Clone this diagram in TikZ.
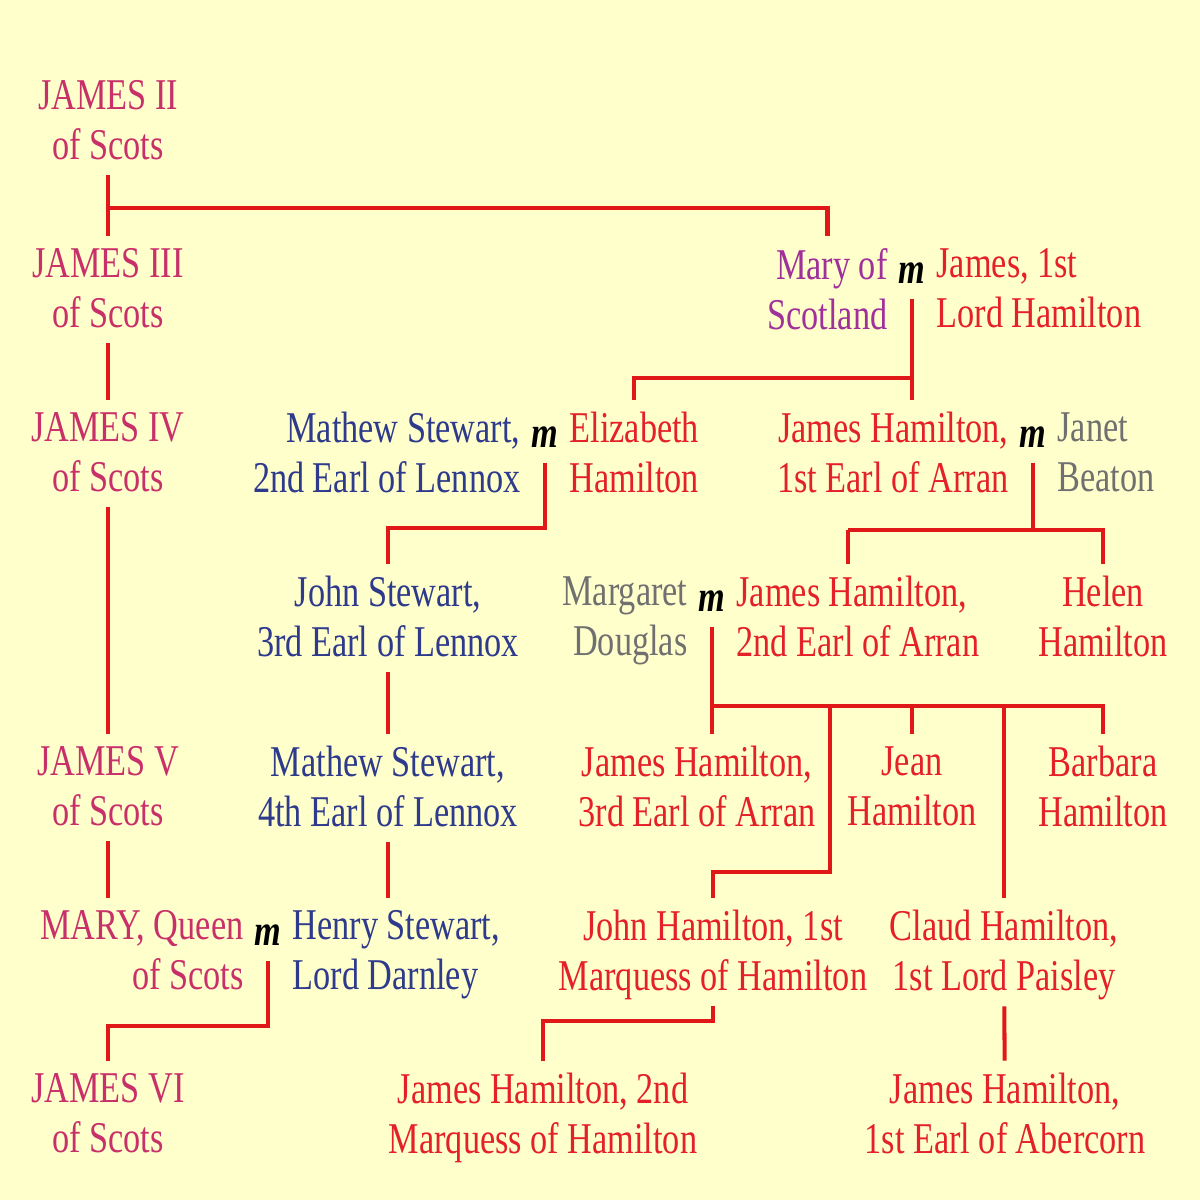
\documentclass[tikz,border=0pt]{standalone}
\usepackage{fontspec}
\setmainfont{Liberation Serif}[FakeStretch=0.78]
\definecolor{paper}{HTML}{FFFFCC}
\definecolor{kingpink}{HTML}{C8306A}
\definecolor{marypurple}{HTML}{A0309A}
\definecolor{hamred}{HTML}{E42028}
\definecolor{stewblue}{HTML}{2E3A8C}
\definecolor{inlawgrey}{HTML}{707070}
\definecolor{linered}{HTML}{E01818}

\begin{document}
\begin{tikzpicture}[x=0.2mm, y=-0.2mm,
    every node/.style={inner sep=0pt, anchor=north, font=\fontsize{25}{28.5}\selectfont,
        execute at begin node=\strut, execute at end node=\strut},
    person/.style={align=center},
    lspouse/.style={align=right, anchor=north east},
    rspouse/.style={align=left, anchor=north west},
    wed/.style={inner xsep=6pt, text=black, font=\fontsize{25}{28.5}\selectfont\bfseries\itshape},
    king/.style={text=kingpink},
    queen/.style={text=marypurple},
    hamilton/.style={text=hamred},
    stewart/.style={text=stewblue},
    inlaw/.style={text=inlawgrey},
    line/.style={draw=linered, line width=2.3pt},
    desc/.style={line, shorten >=7pt}]

    \fill[paper] (0,0) rectangle (1200,1200);

    \node[person, king] (j2) at (108,80) {JAMES II\\of Scots};

    \node[person, king] (j3) at (108,248) {JAMES III\\of Scots};
    \node[wed] (m1) at (912,248) {m};
    \node[lspouse, queen] (mary) at (m1.north west) {Mary of\\Scotland};
    \node[rspouse, hamilton] (lordham) at (m1.north east) {James, 1st\\Lord Hamilton};

    \node[person, king] (j4) at (108,412) {JAMES IV\\of Scots};
    \node[wed] (m2) at (545,412) {m};
    \node[lspouse, stewart] (lennox2) at (m2.north west) {Mathew Stewart,\\2nd Earl of Lennox};
    \node[rspouse, hamilton] (eliz) at (m2.north east) {Elizabeth\\Hamilton};
    \node[wed] (m3) at (1033,412) {m};
    \node[lspouse, hamilton] (arran1) at (m3.north west) {James Hamilton,\\1st Earl of Arran};
    \node[rspouse, inlaw] (janet) at (m3.north east) {Janet\\Beaton};

    \node[person, stewart] (lennox3) at (388,576) {John Stewart,\\3rd Earl of Lennox};
    \node[wed] (m4) at (712,576) {m};
    \node[lspouse, inlaw] (margaret) at (m4.north west) {Margaret\\Douglas};
    \node[rspouse, hamilton] (arran2) at (m4.north east) {James Hamilton,\\2nd Earl of Arran};
    \node[person, hamilton] (helen) at (1103,576) {Helen\\Hamilton};

    \node[person, king] (j5) at (108,746) {JAMES V\\of Scots};
    \node[person, stewart] (lennox4) at (388,746) {Mathew Stewart,\\4th Earl of Lennox};
    \node[person, hamilton] (arran3) at (697,746) {James Hamilton,\\3rd Earl of Arran};
    \node[person, hamilton] (jean) at (912,746) {Jean\\Hamilton};
    \node[person, hamilton] (barbara) at (1103,746) {Barbara\\Hamilton};

    \node[wed] (m5) at (268,910) {m};
    \node[lspouse, king] (maryq) at (m5.north west) {MARY, Queen\\of Scots};
    \node[rspouse, stewart] (darnley) at (m5.north east) {Henry Stewart,\\Lord Darnley};
    \node[person, hamilton] (marq1) at (713,910) {John Hamilton, 1st\\Marquess of Hamilton};
    \node[person, hamilton] (claud) at (1004,910) {Claud Hamilton,\\1st Lord Paisley};

    \node[person, king] (j6) at (108,1073) {JAMES VI\\of Scots};
    \node[person, hamilton] (marq2) at (543,1073) {James Hamilton, 2nd\\Marquess of Hamilton};
    \node[person, hamilton] (abercorn) at (1005,1073) {James Hamilton,\\1st Earl of Abercorn};

    \coordinate (b1) at (108,208);
    \coordinate (b2) at (912,378);
    \coordinate (b3) at (0,528);
    \coordinate (b4l) at (848,530);
    \coordinate (b5) at (0,706);
    \coordinate (b6) at (830,872);

    \draw[desc] (j2) -- (j3);
    \draw[desc] (b1) -| (mary.north);
    \draw[desc] (j3) -- (j4);
    \draw[desc] (m1.south) -- (m1.south |- arran1.north);
    \draw[desc] (b2) -| (eliz.north);
    \draw[desc] (j4) -- (j5);
    \draw[desc] (m2.south) |- (lennox3.north |- b3) -- (lennox3.north);
    \draw[line] (m3.south) -- (m3.south |- b4l);
    \draw[desc] (b4l) -- (b4l |- arran2.north);
    \draw[desc] (b4l) -| (helen.north);
    \draw[desc] (lennox3) -- (lennox4);
    \draw[desc] (m4.south) -- (m4.south |- arran3.north);
    \draw[desc] (m4.south |- b5) -| (barbara.north);
    \draw[desc] (jean.north |- b5) -- (jean.north);
    \draw[desc] (claud.north |- b5) -- (claud.north);
    \draw[desc] (b6 |- b5) -- (b6) -| (marq1.north);
    \draw[desc] (j5.south) -- (j5.south |- maryq.north);
    \draw[desc] (lennox4.south) -- (lennox4.south |- darnley.north);
    \draw[desc] (m5.south) -- ++(0,65) -| (j6.north);
    \draw[desc] (marq1.south) -- ++(0,15) -| (marq2.north);
    \draw[desc] (claud) -- (abercorn);
\end{tikzpicture}
\end{document}
